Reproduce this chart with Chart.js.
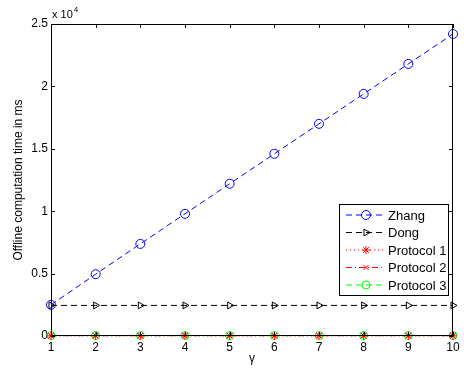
<!DOCTYPE html>
<html>
<head>
<meta charset="utf-8">
<script src="https://cdn.jsdelivr.net/npm/chart.js@4/dist/chart.umd.min.js"></script>
<style>
  html, body { margin: 0; padding: 0; background: #fff; }
  #wrap { width: 464px; height: 370px; }
</style>
</head>
<body>
<div id="wrap"><canvas id="c" width="464" height="370"></canvas></div>
<script>
const gammas = [1, 2, 3, 4, 5, 6, 7, 8, 9, 10];
const zhang = [2500, 4950, 7380, 9790, 12200, 14600, 17000, 19400, 21800, 24200];
const dong = [2450, 2450, 2450, 2450, 2450, 2450, 2450, 2450, 2450, 2450];
const protocol1 = [15, 15, 15, 15, 15, 15, 15, 15, 15, 15];
const protocol2 = [25, 25, 25, 25, 25, 25, 25, 25, 25, 25];
const protocol3 = [35, 35, 35, 35, 35, 35, 35, 35, 35, 35];
const yTicks = [0, 5000, 10000, 15000, 20000, 25000];

const FONT = '"Liberation Sans", Arial, sans-serif';

function pts(arr) {
  return arr.map((v, i) => ({ x: gammas[i], y: v }));
}

const series = [
  { label: 'Zhang', data: zhang, color: '#0000ff', dash: [6, 4], style: 'circle', r: 4.5, rot: 0 },
  { label: 'Dong', data: dong, color: '#000000', dash: [6, 4], style: 'triangle', r: 4, rot: 90 },
  { label: 'Protocol 1', data: protocol1, color: '#ff0000', dash: [1, 3], style: 'star', r: 4, rot: 0 },
  { label: 'Protocol 2', data: protocol2, color: '#ff0000', dash: [6, 3, 1, 3], style: 'crossRot', r: 3.5, rot: 0 },
  { label: 'Protocol 3', data: protocol3, color: '#00ff00', dash: [6, 4], style: 'circle', r: 4, rot: 0 },
];

// box, inward ticks, exponent label, legend
const matlabAxes = {
  id: 'matlabAxes',
  afterDraw(chart) {
    const ctx = chart.ctx;
    const a = chart.chartArea;
    const xs = chart.scales.x, ys = chart.scales.y;
    ctx.save();
    ctx.strokeStyle = '#000';
    ctx.lineWidth = 1;
    ctx.setLineDash([]);
    ctx.strokeRect(a.left + 0.5, a.top + 0.5, a.right - a.left - 1, a.bottom - a.top - 1);
    ctx.beginPath();
    gammas.forEach(g => {
      const px = Math.round(xs.getPixelForValue(g)) + 0.5;
      ctx.moveTo(px, a.bottom); ctx.lineTo(px, a.bottom - 4);
      ctx.moveTo(px, a.top); ctx.lineTo(px, a.top + 4);
    });
    yTicks.forEach(t => {
      const py = Math.round(ys.getPixelForValue(t)) + 0.5;
      ctx.moveTo(a.left, py); ctx.lineTo(a.left + 4, py);
      ctx.moveTo(a.right, py); ctx.lineTo(a.right - 4, py);
    });
    ctx.stroke();

    // exponent
    ctx.fillStyle = '#000';
    ctx.font = '11px ' + FONT;
    ctx.textBaseline = 'alphabetic';
    ctx.textAlign = 'left';
    ctx.fillText('x 10', a.left + 1, a.top - 6);
    const w = ctx.measureText('x 10').width;
    ctx.font = '8px ' + FONT;
    ctx.fillText('4', a.left + 1 + w + 1, a.top - 12);

    // legend
    const lx = 339, ly = 204, lw = 109, lh = 91;
    ctx.fillStyle = '#fff';
    ctx.fillRect(lx, ly, lw, lh);
    ctx.strokeStyle = '#000';
    ctx.strokeRect(lx + 0.5, ly + 0.5, lw, lh);
    ctx.font = '13px ' + FONT;
    ctx.textBaseline = 'middle';
    series.forEach((s, i) => {
      const y = ly + 11 + i * 17.5;
      ctx.strokeStyle = s.color;
      ctx.lineWidth = 1;
      ctx.setLineDash(s.dash);
      ctx.beginPath();
      ctx.moveTo(lx + 7, y); ctx.lineTo(lx + 46, y);
      ctx.stroke();
      ctx.setLineDash([]);
      ctx.fillStyle = 'rgba(0,0,0,0)';
      Chart.helpers.drawPoint(ctx, {
        pointStyle: s.style, radius: s.r, rotation: s.rot, borderWidth: 1
      }, lx + 27, y);
      ctx.fillStyle = '#000';
      ctx.fillText(s.label, lx + 49, y + 1);
    });
    ctx.restore();
  }
};

new Chart(document.getElementById('c'), {
  type: 'line',
  data: {
    datasets: series.map(s => ({
      label: s.label,
      data: pts(s.data),
      borderColor: s.color,
      backgroundColor: 'rgba(0,0,0,0)',
      borderWidth: 1,
      borderDash: s.dash,
      pointStyle: s.style,
      pointRadius: s.r,
      pointRotation: s.rot,
      pointBorderColor: s.color,
      pointBorderWidth: 1,
      pointBackgroundColor: 'rgba(0,0,0,0)',
      tension: 0,
      clip: false,
    }))
  },
  options: {
    responsive: false,
    animation: false,
    devicePixelRatio: 1,
    layout: { padding: { top: 24, right: 11, left: 11, bottom: 0 } },
    plugins: { legend: { display: false }, tooltip: { enabled: false } },
    scales: {
      x: {
        type: 'linear',
        min: 1, max: 10,
        grid: { display: false, drawTicks: false },
        border: { display: false },
        afterBuildTicks(scale) { scale.ticks = gammas.map(v => ({ value: v })); },
        afterFit(scale) { scale.height = 34; },
        ticks: { color: '#000', font: { family: FONT, size: 12 }, padding: 4, maxRotation: 0 },
        title: { display: true, text: 'γ', color: '#000', font: { family: FONT, size: 12 }, padding: { top: 0, bottom: 4 } }
      },
      y: {
        min: 0, max: 25000,
        grid: { display: false, drawTicks: false },
        border: { display: false },
        afterBuildTicks(scale) { scale.ticks = yTicks.map(v => ({ value: v })); },
        afterFit(scale) { scale.width = 40; },
        ticks: { color: '#000', font: { family: FONT, size: 12 }, padding: 3, callback: v => String(v / 10000) },
        title: { display: true, text: 'Offline computation time in ms', color: '#000', font: { family: FONT, size: 12 }, padding: { top: 0, bottom: 4 } }
      }
    }
  },
  plugins: [matlabAxes]
});
</script>
</body>
</html>
